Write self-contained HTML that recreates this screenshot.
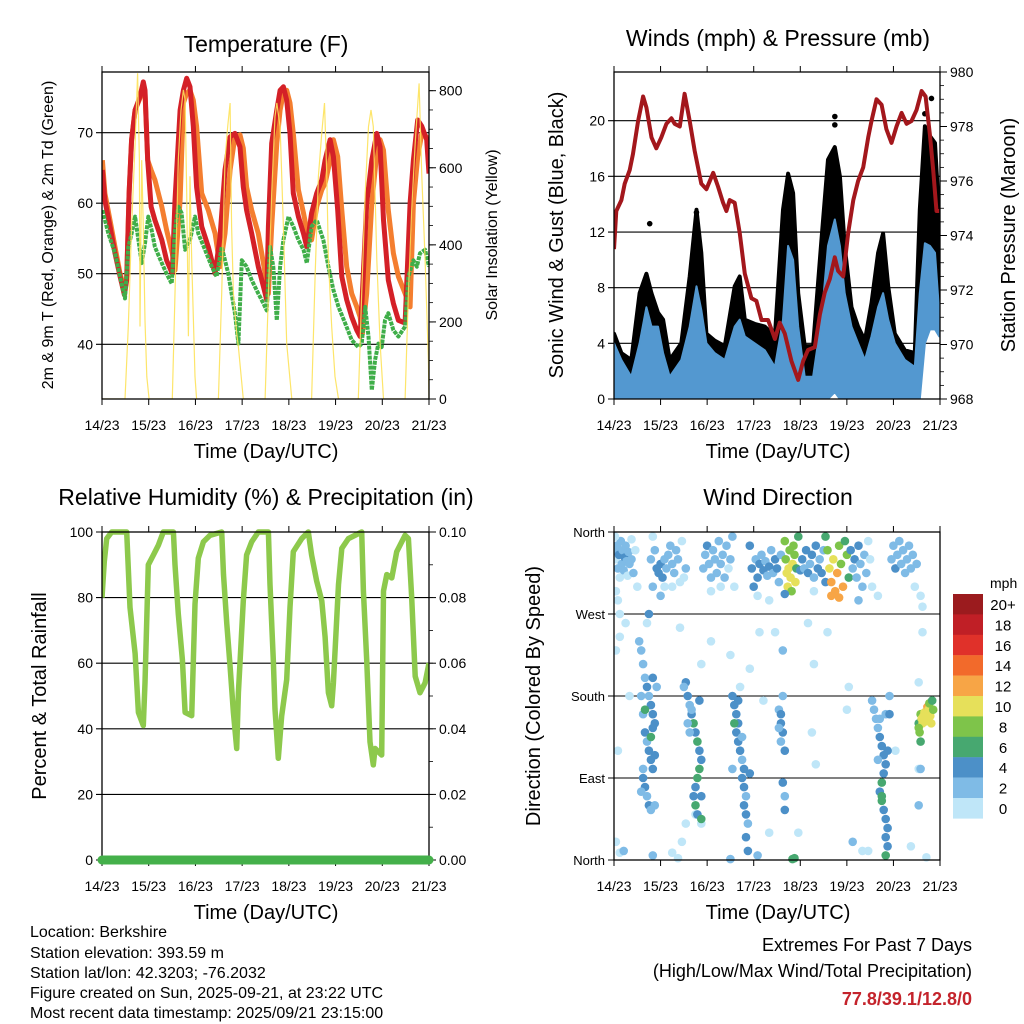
<!DOCTYPE html>
<html><head><meta charset="utf-8"><title>Weather station meteogram</title>
<style>
html,body{margin:0;padding:0;background:#fff;}
svg{display:block;font-family:"Liberation Sans",sans-serif;}
</style></head>
<body>
<svg id="chart" width="1024" height="1024" viewBox="0 0 1024 1024" xmlns="http://www.w3.org/2000/svg">
<rect width="1024" height="1024" fill="#fff"/>
<text x="266" y="52" font-size="23" text-anchor="middle">Temperature (F)</text>
<text x="778" y="46" font-size="23" text-anchor="middle">Winds (mph) &amp; Pressure (mb)</text>
<text x="266" y="505" font-size="23" text-anchor="middle">Relative Humidity (%) &amp; Precipitation (in)</text>
<text x="778" y="505" font-size="23" text-anchor="middle">Wind Direction</text>

<text x="266" y="458" font-size="20" text-anchor="middle">Time (Day/UTC)</text>
<text x="778" y="458" font-size="20" text-anchor="middle">Time (Day/UTC)</text>
<text x="266" y="919" font-size="20" text-anchor="middle">Time (Day/UTC)</text>
<text x="778" y="919" font-size="20" text-anchor="middle">Time (Day/UTC)</text>

<text transform="translate(53,235) rotate(-90)" font-size="16" text-anchor="middle">2m &amp; 9m T (Red, Orange) &amp; 2m Td (Green)</text>
<text transform="translate(497,235) rotate(-90)" font-size="16" text-anchor="middle">Solar Insolation (Yellow)</text>
<text transform="translate(563,235) rotate(-90)" font-size="20" text-anchor="middle">Sonic Wind &amp; Gust (Blue, Black)</text>
<text transform="translate(1015,235) rotate(-90)" font-size="20" text-anchor="middle">Station Pressure (Maroon)</text>
<text transform="translate(46,696) rotate(-90)" font-size="20" text-anchor="middle">Percent &amp; Total Rainfall</text>
<text transform="translate(540,696) rotate(-90)" font-size="20" text-anchor="middle">Direction (Colored By Speed)</text>

<g font-size="16">
<text x="30" y="937">Location: Berkshire</text>
<text x="30" y="958">Station elevation: 393.59 m</text>
<text x="30" y="978">Station lat/lon: 42.3203; -76.2032</text>
<text x="30" y="998">Figure created on Sun, 2025-09-21, at 23:22 UTC</text>
<text x="30" y="1018">Most recent data timestamp: 2025/09/21 23:15:00</text>
</g>
<g text-anchor="end">
<text x="972" y="951" font-size="18">Extremes For Past 7 Days</text>
<text x="972" y="977" font-size="18">(High/Low/Max Wind/Total Precipitation)</text>
<text x="972" y="1005" font-size="18" font-weight="bold" fill="#c4232b">77.8/39.1/12.8/0</text>
</g>
<g id="layer"></g>
</svg>
<script>
// ---------- data (hours since 14/23 UTC) ----------
const dayLabels = ["14/23","15/23","16/23","17/23","18/23","19/23","20/23","21/23"];
const tempTicks = [40,50,60,70];
const insolTicks = [0,200,400,600,800];
const windTicks = [0,4,8,12,16,20];
const pressTicks = [968,970,972,974,976,978,980];
const rhTicks = [0,20,40,60,80,100];
const rainTicks = ["0.00","0.02","0.04","0.06","0.08","0.10"];
const dirLabels = ["North","East","South","West","North"];
const speedBins = ["0","2","4","6","8","10","12","14","16","18","20+"];

const tRedHours = [0.2,1.5,4.1,6.7,9.3,11.5,12.7,13.9,15.2,17,19.5,21.2,22.1,23.5,25.2,27.2,30.7,33.2,36.1,37.5,40.1,41.8,43.5,45.2,46.9,48.6,51.2,54.6,58.1,60.6,63.2,65.8,68.3,70.9,72.6,74.3,76.9,80.3,82.9,84.6,85.5,87.2,89.8,91.5,93.2,94.9,96.6,98.3,100.9,103.5,105.2,107.7,110.3,112.9,114.6,117.2,118.9,121.1,123.2,125.7,128.3,130.9,132.6,133.8,136,138.6,141.2,142.9,144.6,147.1,149.7,152.3,155.7,158.3,160,162.2,164.3,166.8,168];
const tRed = [64.7,60.4,56.7,52.9,49.6,47,49.1,61.4,69,73.2,75.1,77.2,76,66.1,59.5,57.6,54.8,51.9,50,60.4,73.2,76,77.7,76.5,70.9,62.3,56.7,53.8,50,55.2,64.7,69.4,69.9,68,62.3,59,55.7,51,48.2,46.3,56.7,68.5,73.2,76,76.5,74.6,69.9,61.4,58.1,55.7,53.8,58.6,61.4,63.3,66.1,69,66.6,59,49.6,46.3,43.9,42,41.1,47.2,60,66.1,69.9,68,57.6,49.1,45.8,43.4,43,60,66.1,71.8,70.9,69,64.2];
const tOrange = [66.1,61.4,57.6,53.8,50,47.7,49.6,61.4,69,73.2,74.9,76.5,75.6,66.1,64.7,63.3,59.5,56.2,52.9,50.5,60.4,74.2,75.6,76,74.6,70.9,61.4,59,55.7,51,55.7,64.7,69.4,69.7,67.8,62.3,59,55.7,51.5,48.6,47.2,56.7,68.5,73.2,75.6,76,74.2,69.9,61.9,58.6,56.2,54.8,59.5,61.9,62.8,66.1,69,66.6,59,51,47.2,45.3,43.9,41.5,47.2,60,67.1,69,67.5,59,52.9,49.6,47.2,45.3,60,66.6,69.9,69.4,68,64.2];
const tdHours = [0.2,3.3,6.7,9.3,11.8,13.5,15.2,17,18.7,20.4,22.1,23.8,25.5,27.2,30.7,33.2,35.8,37.5,39.2,40.9,42.7,45.2,47.8,49.5,52.9,56.4,58.9,61.5,64.9,66.6,68.3,70.1,71.8,74.3,76.9,80.3,82.9,84.6,86.3,88,89.8,91.5,93.2,95.8,98.3,100.9,103.5,105.2,107.7,110.3,113.7,116.3,118.9,121.5,124.9,128.3,131.7,133.4,135.2,136.9,138.6,140.3,142,143.7,145.4,147.1,149.7,152.3,155.7,157.4,160,161.8,163.4,166,168];
const td = [59,55.7,52.9,49.6,46.5,53.8,55.7,58.1,54.8,51.5,54.3,58.1,56.2,53.8,51.5,50,48.6,56.2,59.5,58.6,53.4,54.8,58.1,55.7,53.4,51,49.6,53.8,50,47.2,44.4,40.1,51.9,51,49.1,47.2,45.8,44.8,53.8,51,43.4,51,54.8,58.1,56.7,54.8,53.4,51.5,56.7,57.6,54.8,51,47.7,45.3,43,40.6,39.6,40.1,45.3,41.1,33.5,37.8,40.1,39.6,43.4,44.4,42,41.1,42.5,49.6,51.9,51,52.9,53.4,51];
const insolHours = [0,11.8,13.5,15.2,17,18.3,19.2,19.5,20.4,21.2,22.1,23,24.2,36.1,37.5,39.2,40.6,41.8,42.7,43.5,44.4,45.2,46.1,47.8,48.6,59.8,61.5,63.2,64.6,65.8,66.6,67.5,69.2,70.1,72.6,83.8,85.5,87.2,88.9,89.8,91.5,93.2,94.9,97.5,107.7,109.5,111.2,112.9,114.3,115.5,116.3,118,119.7,121.5,131.7,133.4,135.2,136.9,138.2,139.4,141.2,142.9,144.6,155.7,157.4,159.1,160.9,162.9,164.3,166,167.7,168];
const insol = [0,0,188,447,663,845,620,188,620,447,204,58,0,0,274,620,750,802,776,535,163,578,362,58,0,0,274,620,707,768,447,274,170,135,0,0,274,534,733,768,707,447,144,0,0,318,578,691,768,578,362,187,58,0,0,274,534,707,750,707,362,144,0,0,274,491,664,819,578,362,101,0];

const pressHours = [0,1.2,3.8,5.5,8.1,9.8,12.4,15,16.7,19.3,21.8,24.4,27,29.6,31.3,33.9,36.4,39,41.6,45,47.6,51.1,53.6,56.2,57.9,59.6,62.2,64.8,67.4,70.8,73.4,76,79.4,82.9,85.4,88,91.4,94.9,97.5,100,103.5,106.1,108.6,111.2,113.8,115.5,118.1,120.7,123.3,125.8,128.4,131,132.7,135.3,137.9,140.4,143,145.6,148.2,150.8,153.3,155.9,158.5,160.6,162.8,164.5,166.2,167.6];
const pressure = [973.5,974.9,975.3,975.9,976.4,977,978.2,979.1,978.7,977.6,977.2,977.6,978.1,978.3,978.1,978,979.2,978.2,977.1,975.9,975.7,976.3,975.8,975.2,974.9,975.3,975.2,974.1,972.6,971.7,971.6,970.9,970.9,970.2,970.8,970.4,969.4,968.7,969.4,969.8,969.9,971.1,971.9,972.4,973.2,972.7,972.5,974.1,975.3,976,976.5,977.6,978.2,979,978.8,977.9,977.4,978,978.5,978.1,978.2,978.6,979.3,979.1,977.7,976.4,974.9,974.9];
const windHours = [0,3.8,8.9,13.2,16.7,19.3,22.7,25.3,28.7,34.7,39,42.5,45,47.6,51.9,57.1,62.2,64.8,67.4,72.5,77.7,82.9,87.1,89.7,92.3,94.9,98.3,102.6,106.9,110.3,113.8,116.4,118.9,122.4,125.8,129.3,132.7,136.1,138.7,141.3,144.7,149.9,155,157.6,160.2,162.8,165.4,167.6];
const windHigh = [4,2.8,1.6,4,6.6,5.2,5.2,3.3,1.6,2.8,5.2,8.1,6.4,4,3.3,2.8,5.2,5.7,4.5,4,3.5,2.3,5.7,11,10,5.2,1.6,1.6,5.7,11,12.9,11,7.6,5.2,4,2.8,4.5,6.6,7.6,5.7,4,2.8,2.3,7.6,11.2,11,10.5,6.2];
const windLow = [0,0,0,0,0,0,0,0,0,0,0,0,0,0,0,0,0,0,0,0,0,0,0,0,0,0,0,0,0,0,0.5,0,0,0,0,0,0,0,0,0,0,0,0,0,4,5,5,4.5];
const gustHigh = [4.7,3.3,2.8,7.6,9,7.6,6.2,5.7,2.8,4,8.8,13.6,10.5,4.7,4.2,3.8,8.1,8.8,5.7,5.4,5.2,4.5,13.6,16.2,14.8,7.6,3.8,3.8,11.4,17.2,18.1,16,11,6.6,5.2,4.2,6.9,10.5,11.9,8.1,4.7,3.5,3.3,13.6,19.6,18.9,18.4,13.1];
const gustExtraHours = [18.4,42.5,113.8,113.8,163.6,112.1,160.2];
const gustExtra = [12.6,13.4,20.3,19.7,21.6,17.5,20.5];

const rhHours = [0,1.2,2.4,5,12.7,14.4,17,18.7,21.2,22.1,23.8,26.4,29,31.5,36.7,37.5,39.2,41.3,42.7,46.1,47.8,49.5,52.1,55.5,61.5,62.4,64.1,65.8,67.5,69.2,70.1,72.6,74.3,76.9,80.3,85.5,86.3,88,88.9,90.6,92.3,94.9,96.6,98.3,102.6,106,107.7,110.3,112.9,114.6,116.3,118,118.9,121.5,123.2,126.6,133.4,134.3,136,137.7,139.4,140.3,143.7,144.6,146.3,148.9,151.4,155.7,157.4,159.1,160.9,163.4,166,168];
const rh = [80,91,98,100,100,77,63,45,41,54,90,93,96,100,100,90,75,61,45,44,78,92,97,99,100,87,72,59,45,34,51,79,93,97,100,100,84,61,46,31,44,55,77,94,98,100,93,85,79,68,51,47,54,84,95,98,100,82,61,36,29,34,32,82,87,86,94,99,98,80,56,51,54,60];
const rainHours = [0,168];
const rain = [0,0];

// wind direction observations: time (h), direction (deg), speed (mph)
const dirHours = [0.5,1,1.5,2,2.5,3,3.5,4,4.5,5,5.5,6,6.5,7,7.5,8,9,10,11,12,1,2,0.5,9,3,
19,20,21,22,23,24,25,26,27,28,29,30,31,32,33,34,35,36,37,24,26,20,30,
46,47,48,49,50,51,52,53,54,55,56,57,58,59,60,61,62,50,55,
70,71,72,73,74,75,76,77,78,79,80,81,82,83,84,85,86,74,80,
88,88.5,89,89.5,90,90.5,91,91.5,92,92.5,93,93.5,94,95,96,88,
97,98,99,100,101,102,103,104,105,106,107,108,109,103,
109,110,111,112,113,114,115,116,117,118,119,120,121,112,116,
122,123,124,125,126,127,128,129,130,131,132,126,133,
143,144,145,146,147,148,149,150,151,152,153,154,155,156,158,159,
1,3,6,8,2,1,3,15,17,34,35,30,45,50,60,65,70,75,77,80,83,87,87,88,88,95,100,102,103,104,110,120,121,123,128,131,145,153,157,157,159,136,140,161,92,93,74,60,45,42,20,33,5,
13,14,15,16,17,18,19,20,21,16,17,18,19,20,15,16,17,18,19,14,15,14,19,20,21,20,18,16,22,21,
37,38,39,40,41,42,43,44,45,44,43,42,41,42,43,45,40,38,39,44,45,36,37,
61,62,63,64,63,64,65,66,67,66,67,68,67,68,69,68,69,62,64,70,61,66,
85,86,86,87,86,85,87,88,
133,134,135,136,137,138,139,140,139,138,137,138,139,140,141,140,141,142,142,141,137,136,140,138,
157,157.5,158,158.5,159,159.5,160,160.5,161,161.5,162,162.5,163,163.5,158,157,164,164.5,158,157];
const dirDeg = [340,330,345,320,335,310,350,325,340,318,332,345,328,312,338,325,330,315,340,300,295,285,355,352,270,
330,300,340,320,315,325,310,330,320,335,345,325,315,340,330,305,350,310,320,290,300,355,300,
320,335,345,325,310,340,330,315,350,325,335,310,345,320,330,355,300,295,300,
345,320,300,330,310,325,335,318,328,312,322,340,315,330,320,305,335,290,285,
350,330,315,300,320,340,310,295,325,345,335,305,320,355,318,292,
330,320,340,315,325,335,310,345,320,330,315,340,305,295,
355,340,320,305,330,295,315,345,325,300,350,335,310,290,288,
340,320,330,310,345,325,300,335,315,350,330,285,300,
330,345,320,335,350,325,340,315,330,345,320,335,300,325,290,278,
230,245,260,180,120,20,8,100,260,255,20,8,215,240,225,190,210,250,175,30,250,230,180,120,70,30,260,140,215,105,250,165,190,20,10,10,120,15,100,195,250,290,160,3,1,2,5,1,40,50,5,2,10,
240,230,215,200,190,180,170,160,150,140,130,120,110,100,90,80,70,60,55,75,160,180,135,145,115,200,270,165,190,60,
195,180,170,160,150,140,130,120,110,100,90,80,70,60,50,45,165,150,140,175,70,190,40,
180,170,160,150,140,130,120,110,100,90,80,70,60,50,40,25,10,150,175,95,100,135,
165,160,150,140,130,145,85,55,
175,165,155,145,135,125,115,105,95,85,75,65,55,45,35,25,15,160,180,120,155,110,5,70,
150,140,160,155,150,158,162,152,160,168,165,172,158,150,130,145,175,165,100,60];
const dirSpeed = [3,1,3,3,4,1,2,3,3,2,4,3,3,1,2,3,3,3,1,1,1,1,1,1,1,
2,3,3,4,5,5,4,3,3,3,3,3,2,3,3,1,1,1,2,2,1,1,1,
2,3,4,3,3,3,3,3,3,3,2,3,3,1,3,3,1,1,1,
5,4,4,3,4,5,3,4,3,3,4,3,3,5,4,3,3,1,1,
8,9,10,11,10,8,10,8,11,9,9,10,7,7,5,4,
4,3,4,5,3,4,3,5,4,3,4,3,4,1,
7,9,11,12,11,13,12,9,8,12,7,8,6,13,12,
4,3,4,3,4,3,2,3,2,1,1,2,1,
3,3,4,3,3,3,3,3,3,2,3,3,1,3,1,1,
1,1,1,1,1,1,1,2,1,1,1,1,1,1,1,1,1,1,1,1,1,3,3,4,3,1,1,1,1,1,1,1,1,3,1,1,1,1,1,1,1,1,3,1,7,7,3,2,1,1,3,1,3,
2,3,3,3,4,3,4,4,4,4,3,4,4,5,4,4,3,4,3,3,2,2,7,5,4,5,4,6,3,3,
4,4,3,4,6,5,7,5,5,6,7,4,4,6,4,6,3,2,2,4,5,3,1,
4,4,4,4,5,4,4,3,4,4,4,3,4,4,3,4,4,6,4,4,2,3,
3,4,4,4,3,2,4,4,
2,3,2,3,4,4,5,4,5,6,5,6,5,4,4,4,4,4,3,4,2,3,7,7,
7,8,9,10,11,10,11,11,10,12,10,8,10,11,7,9,7,9,3,2];
const binColors = ["#bfe6f8","#7fbbe6","#4c90c8","#47a870","#7ec44a","#e6e05a","#f7a546","#f26a2b","#e0312a","#c01f26","#9b1b1e"];

// ---------- helpers ----------
const NS = "http://www.w3.org/2000/svg";
const layer = document.getElementById("layer");
function mk(tag, attrs, parent) {
  const e = document.createElementNS(NS, tag);
  for (const k in attrs) e.setAttribute(k, attrs[k]);
  (parent || layer).appendChild(e);
  return e;
}
function scale(d0, d1, r0, r1) { return v => r0 + (v - d0) / (d1 - d0) * (r1 - r0); }
function pathFrom(xsArr, ysArr, fx, fy) {
  let d = "";
  for (let i = 0; i < xsArr.length; i++) d += (i ? "L" : "M") + fx(xsArr[i]).toFixed(1) + "," + fy(ysArr[i]).toFixed(1);
  return d;
}

const P1 = {x0:102,x1:429,y0:72,y1:399};
const P2 = {x0:614,x1:940,y0:72,y1:399};
const P3 = {x0:102,x1:429,y0:532,y1:860};
const P4 = {x0:614,x1:940,y0:532,y1:860};

function frame(P, name, tickY) {
  const g = mk("g", {});
  
  
  const fx = scale(0, 168, P.x0, P.x1);
  for (let i = 0; i < dayLabels.length; i++) {
    const x = fx(i * 24);
    mk("line", {x1:x, x2:x, y1:P.y1, y2:P.y1 + 6, stroke:"#000", "stroke-width":1}, g);
    mk("line", {x1:x, x2:x, y1:P.y0, y2:P.y0 - 6, stroke:"#000", "stroke-width":1}, g);
    const t = mk("text", {x:x, y:tickY, "font-size":14, "text-anchor":"middle"}, g);
    
    
    t.textContent = dayLabels[i];
  }
  return g;
}
function border(P) {
  mk("rect", {x:P.x0, y:P.y0, width:P.x1 - P.x0, height:P.y1 - P.y0, fill:"none", stroke:"#000", "stroke-width":1.3});
}
function leftAxis(P, ticks, fy, labels, fs, grid) {
  ticks.forEach((v, i) => {
    const y = fy(v);
    if (grid) mk("line", {x1:P.x0 - 6, x2:P.x1, y1:y, y2:y, stroke:"#000", "stroke-width":1.1});
    else mk("line", {x1:P.x0 - 6, x2:P.x0, y1:y, y2:y, stroke:"#000"});
    const t = mk("text", {x:P.x0 - 9, y:y + 5, "font-size":fs || 14, "text-anchor":"end"});
    
    
    t.textContent = labels ? labels[i] : v;
  });
}
function rightAxis(P, ticks, fy, labels, minorStep, d0, d1) {
  for (let v = d0; v <= d1 + 1e-9; v += minorStep) {
    const y = fy(v);
    mk("line", {x1:P.x1, x2:P.x1 + 4, y1:y, y2:y, stroke:"#000", "stroke-width":0.8});
  }
  ticks.forEach((v, i) => {
    const y = fy(v);
    mk("line", {x1:P.x1, x2:P.x1 + 7, y1:y, y2:y, stroke:"#000"});
    const t = mk("text", {x:P.x1 + 10, y:y + 5, "font-size":14, "text-anchor":"start"});
    
    
    t.textContent = labels ? labels[i] : v;
  });
}

// ---------- panel 1: temperature ----------
(function () {
  const P = P1;
  const fx = scale(0, 168, P.x0, P.x1);
  const fy = scale(32.24, 78.6, P.y1, P.y0);
  const fi = scale(0, 848.5, P.y1, P.y0);
  frame(P, "temperature", 430);
  leftAxis(P, tempTicks, fy, null, 14, true);
  rightAxis(P, insolTicks, fi, null, 50, 0, 848);
  const cp = mk("clipPath", {id:"c1"}); mk("rect", {x:P.x0, y:P.y0, width:P.x1 - P.x0, height:P.y1 - P.y0}, cp);
  const g = mk("g", {"clip-path":"url(#c1)"});
  const o = mk("path", {d:pathFrom(tRedHours, tOrange, fx, fy), fill:"none", stroke:"#f47e2f", "stroke-width":5, "stroke-linejoin":"round"}, g);
  
  
  const r = mk("path", {d:pathFrom(tRedHours, tRed, fx, fy), fill:"none", stroke:"#d42027", "stroke-width":5, "stroke-linejoin":"round"}, g);
  
  
  const gr = mk("path", {d:pathFrom(tdHours, td, fx, fy), fill:"none", stroke:"#3fae49", "stroke-width":4, "stroke-linejoin":"round", "stroke-dasharray":"4 1"}, g);
  
  
  const y = mk("path", {d:pathFrom(insolHours, insol, fx, fi), fill:"none", stroke:"#fde25a", "stroke-width":1.2, opacity:0.9}, g);
  
  
  border(P);
})();

// ---------- panel 2: winds & pressure ----------
(function () {
  const P = P2;
  const fx = scale(0, 168, P.x0, P.x1);
  const fy = scale(0, 23.5, P.y1, P.y0);
  const fp = scale(968, 980, P.y1, P.y0);
  frame(P, "winds", 430);
  leftAxis(P, windTicks, fy, null, 14, true);
  rightAxis(P, pressTicks, fp, null, 0.5, 968, 980);
  const cp = mk("clipPath", {id:"c2"}); mk("rect", {x:P.x0, y:P.y0, width:P.x1 - P.x0, height:P.y1 - P.y0}, cp);
  const g = mk("g", {"clip-path":"url(#c2)"});
  // gust envelope (between wind top and gust top)
  let d = pathFrom(windHours, gustHigh, fx, fy);
  for (let i = windHours.length - 1; i >= 0; i--) d += "L" + fx(windHours[i]).toFixed(1) + "," + fy(windHigh[i]).toFixed(1);
  const gp = mk("path", {d:d + "Z", fill:"#000", stroke:"#000", "stroke-width":4, "stroke-linejoin":"round"}, g);
  
  
  gustExtraHours.forEach((h, i) => {
    const c = mk("circle", {cx:fx(h), cy:fy(gustExtra[i]), r:2.8, fill:"#000"}, g);
    
    
  });
  // wind band
  let wd = pathFrom(windHours, windHigh, fx, fy);
  for (let i = windHours.length - 1; i >= 0; i--) wd += "L" + fx(windHours[i]).toFixed(1) + "," + fy(windLow[i]).toFixed(1);
  const wp = mk("path", {d:wd + "Z", fill:"#5398d0", stroke:"#5398d0", "stroke-width":2, "stroke-linejoin":"round"}, g);
  
  
  const pp = mk("path", {d:pathFrom(pressHours, pressure, fx, fp), fill:"none", stroke:"#a3171c", "stroke-width":4, "stroke-linejoin":"round"}, g);
  
  
  border(P);
})();

// ---------- panel 3: RH & precip ----------
(function () {
  const P = P3;
  const fx = scale(0, 168, P.x0, P.x1);
  const fy = scale(0, 100, P.y1, P.y0);
  const fr = scale(0, 0.1, P.y1, P.y0);
  frame(P, "humidity", 891);
  leftAxis(P, rhTicks, fy, null, 14, true);
  rightAxis(P, rainTicks.map(Number), fr, rainTicks, 0.01, 0, 0.1);
  const cp = mk("clipPath", {id:"c3"}); mk("rect", {x:P.x0, y:P.y0 - 3, width:P.x1 - P.x0, height:P.y1 - P.y0 + 3}, cp);
  const l = mk("path", {d:pathFrom(rhHours, rh, fx, fy), fill:"none", stroke:"#8dc94c", "stroke-width":5.5, "stroke-linejoin":"round", "clip-path":"url(#c3)"});
  
  
  border(P);
  const rp = mk("path", {d:pathFrom(rainHours, rain, fx, fr), fill:"none", stroke:"#44b04a", "stroke-width":9, "stroke-linecap":"round"});
  
  
})();

// ---------- panel 4: wind direction ----------
(function () {
  const P = P4;
  const fx = scale(0, 168, P.x0, P.x1);
  const fy = scale(0, 360, P.y1, P.y0);
  frame(P, "direction", 891);
  leftAxis(P, [0,90,180,270,360], fy, dirLabels, 13, true);
  const cp = mk("clipPath", {id:"c4"}); mk("rect", {x:P.x0, y:P.y0 - 4, width:P.x1 - P.x0 + 4, height:P.y1 - P.y0 + 8}, cp);
  const g = mk("g", {"clip-path":"url(#c4)"});
  for (let i = 0; i < dirHours.length; i++) {
    const b = Math.min(10, Math.floor(dirSpeed[i] / 2));
    const c = mk("circle", {cx:fx(dirHours[i]).toFixed(1), cy:fy(dirDeg[i]).toFixed(1), r:4.3, fill:binColors[b]}, g);
    
    
  }
  border(P);
  // colorbar
  const cb = mk("g", {});
  
  
  const t = mk("text", {x:990, y:588, "font-size":14}, cb);
  t.textContent = "mph";
  for (let i = 0; i < speedBins.length; i++) {
    const k = speedBins.length - 1 - i;
    const y = 594 + i * 20.4;
    const r = mk("rect", {x:953, y:y, width:30, height:20.6, fill:binColors[k]}, cb);
    
    
    const lt = mk("text", {x:1003, y:y + 16, "font-size":15, "text-anchor":"middle"}, cb);
    
    
    lt.textContent = speedBins[k];
  }
})();
</script>
</body></html>
